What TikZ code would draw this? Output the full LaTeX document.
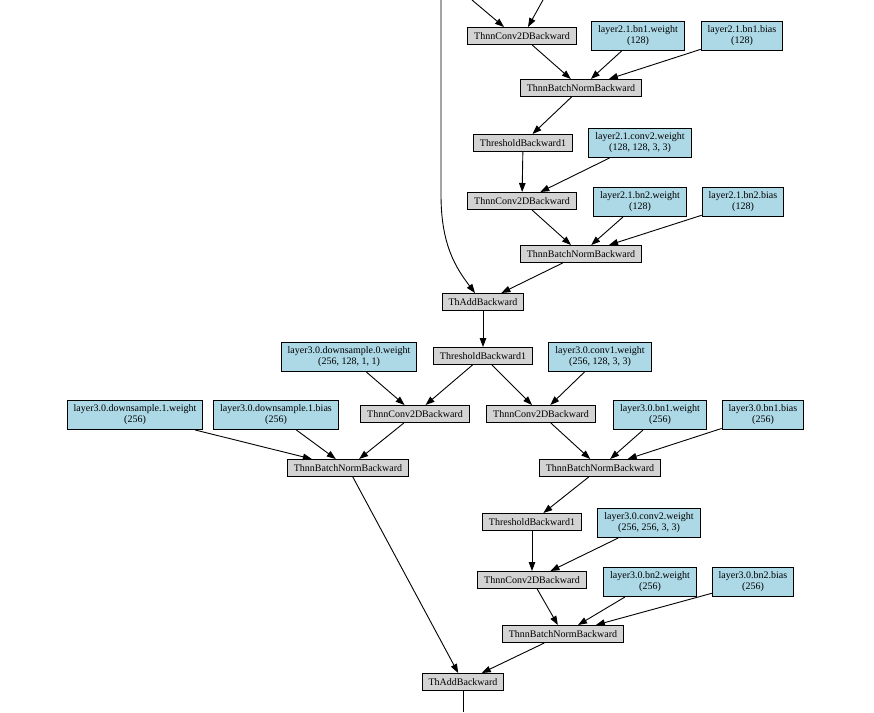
\documentclass[tikz,border=0pt]{standalone}
\usepackage{fontspec}
\setmainfont{Liberation Serif}
\usepackage{tikz}
\usetikzlibrary{arrows.meta,positioning,calc}
\definecolor{gradgray}{HTML}{D3D3D3}
\definecolor{parblue}{HTML}{ADD8E6}
\tikzset{
  fn/.style={draw,line width=1pt,fill=gradgray,minimum height=17pt,inner xsep=6.5pt,inner ysep=3pt},
  par/.style={draw,line width=1pt,fill=parblue,align=center,minimum height=29pt,inner xsep=6.5pt,inner ysep=3pt},
  flow/.style={->,line width=0.9pt}
}
\begin{document}
\begin{tikzpicture}[x=1pt,y=-1pt,font=\fontsize{10}{11}\selectfont,>={Triangle[length=9pt,width=6.5pt]}]
  \useasboundingbox (0,0) rectangle (874,712);
  \node[fn] (conv1a) at (522,36) {ThnnConv2DBackward};
  \node[par] (bn1wa) at (638,36) {layer2.1.bn1.weight\\(128)};
  \node[par] (bn1ba) at (742,36) {layer2.1.bn1.bias\\(128)};
  \node[fn] (bn1a) at (581,88) {ThnnBatchNormBackward};
  \node[fn] (relua) at (523,143) {ThresholdBackward1};
  \node[par] (conv2wa) at (640,143) {layer2.1.conv2.weight\\(128, 128, 3, 3)};
  \node[fn] (conv2a) at (522,201) {ThnnConv2DBackward};
  \node[par] (bn2wa) at (640,202) {layer2.1.bn2.weight\\(128)};
  \node[par] (bn2ba) at (743,202) {layer2.1.bn2.bias\\(128)};
  \node[fn] (bn2a) at (581,254) {ThnnBatchNormBackward};
  \node[fn] (adda) at (483,302) {ThAddBackward};
  \node[fn] (relub) at (483,356) {ThresholdBackward1};
  \node[par] (ds0w) at (349,357) {layer3.0.downsample.0.weight\\(256, 128, 1, 1)};
  \node[par] (conv1wb) at (600,357) {layer3.0.conv1.weight\\(256, 128, 3, 3)};
  \node[fn] (dsconv) at (415,414) {ThnnConv2DBackward};
  \node[fn] (conv1b) at (541,414) {ThnnConv2DBackward};
  \node[par] (ds1w) at (135,415) {layer3.0.downsample.1.weight\\(256)};
  \node[par] (ds1b) at (276,415) {layer3.0.downsample.1.bias\\(256)};
  \node[par] (bn1wb) at (660,415) {layer3.0.bn1.weight\\(256)};
  \node[par] (bn1bb) at (763,415) {layer3.0.bn1.bias\\(256)};
  \node[fn] (dsbn) at (348,468) {ThnnBatchNormBackward};
  \node[fn] (bn1b) at (600,468) {ThnnBatchNormBackward};
  \node[fn] (relu2b) at (532,522) {ThresholdBackward1};
  \node[par] (conv2wb) at (649,523) {layer3.0.conv2.weight\\(256, 256, 3, 3)};
  \node[fn] (conv2b) at (532,580) {ThnnConv2DBackward};
  \node[par] (bn2wb) at (650,582) {layer3.0.bn2.weight\\(256)};
  \node[par] (bn2bb) at (753,582) {layer3.0.bn2.bias\\(256)};
  \node[fn] (bn2b) at (563,634) {ThnnBatchNormBackward};
  \node[fn] (addb) at (463,682) {ThAddBackward};
  \coordinate (in1) at (472,0);
  \coordinate (in2) at (543,0);
  \coordinate (skip) at (441,0);
  \coordinate (out) at (463,712);
  \draw[flow] (in1) -- ([xshift=-18pt]conv1a.north);
  \draw[flow] (in2) -- ([xshift=6pt]conv1a.north);
  \draw[flow] (skip) -- (441,195) .. controls (441,245) and (456,268) .. ([xshift=-8pt]adda.north);
  \foreach \a/\b in {conv1a/bn1a,bn1wa/bn1a,bn1ba/bn1a,bn1a/relua,relua/conv2a,conv2wa/conv2a,
    conv2a/bn2a,bn2wa/bn2a,bn2ba/bn2a,bn2a/adda,adda/relub,relub/dsconv,ds0w/dsconv,
    relub/conv1b,conv1wb/conv1b,dsconv/dsbn,ds1w/dsbn,ds1b/dsbn,conv1b/bn1b,bn1wb/bn1b,
    bn1bb/bn1b,bn1b/relu2b,relu2b/conv2b,conv2wb/conv2b,conv2b/bn2b,bn2wb/bn2b,bn2bb/bn2b,
    dsbn/addb,bn2b/addb}
    \draw[flow] (\a) -- (\b);
  \draw[line width=0.9pt] (addb) -- (out);
\end{tikzpicture}
\end{document}
